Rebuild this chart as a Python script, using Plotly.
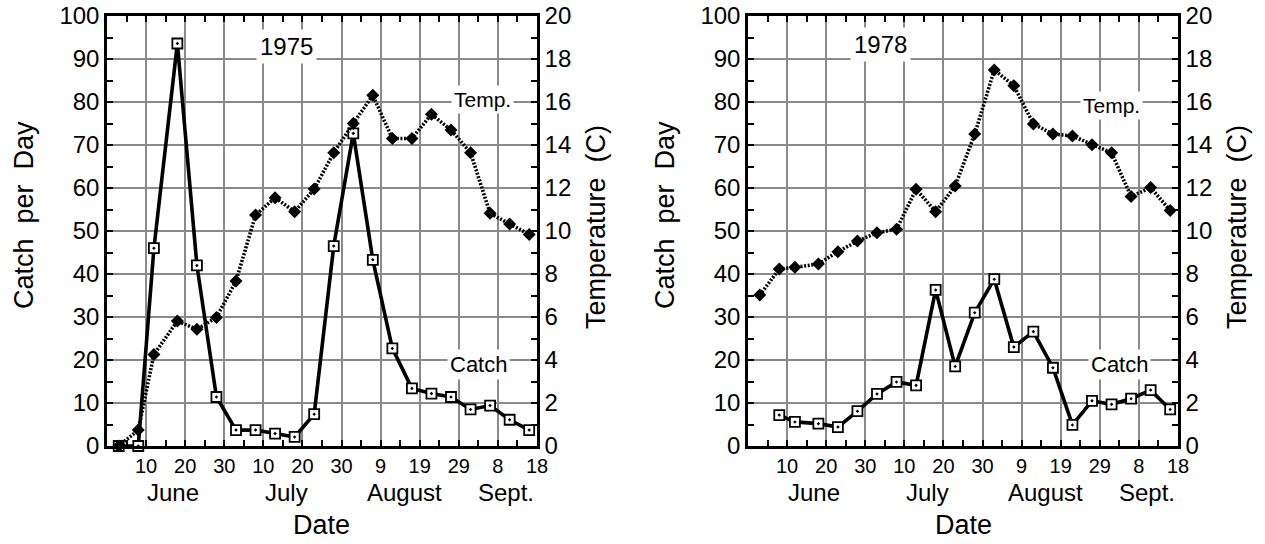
import plotly.graph_objects as go

# ---------------- data ----------------
DATES_1975 = ["1975-06-03", "1975-06-08", "1975-06-12", "1975-06-18", "1975-06-23", "1975-06-28",
              "1975-07-03", "1975-07-08", "1975-07-13", "1975-07-18", "1975-07-23", "1975-07-28",
              "1975-08-02", "1975-08-07", "1975-08-12", "1975-08-17", "1975-08-22", "1975-08-27",
              "1975-09-01", "1975-09-06", "1975-09-11", "1975-09-16"]
CATCH_1975 = [0, 0, 46, 93.6, 42, 11.4, 3.7, 3.7, 2.9, 2.1, 7.4, 46.5,
              72.7, 43.3, 22.7, 13.4, 12.2, 11.4, 8.5, 9.4, 6.1, 3.7]
TEMP_1975 = [0, 0.74, 4.26, 5.81, 5.43, 5.98, 7.67, 10.74, 11.55, 10.9, 11.95, 13.64,
             15.0, 16.31, 14.3, 14.3, 15.43, 14.7, 13.64, 10.82, 10.33, 9.84]

TEMP_DATES_1978 = ["1978-06-03", "1978-06-08", "1978-06-12", "1978-06-18", "1978-06-23", "1978-06-28",
                   "1978-07-03", "1978-07-08", "1978-07-13", "1978-07-18", "1978-07-23", "1978-07-28",
                   "1978-08-02", "1978-08-07", "1978-08-12", "1978-08-17", "1978-08-22", "1978-08-27",
                   "1978-09-01", "1978-09-06", "1978-09-11", "1978-09-16"]
TEMP_1978 = [7.02, 8.23, 8.31, 8.47, 9.04, 9.53, 9.92, 10.08, 11.94, 10.9, 12.09, 14.51,
             17.49, 16.76, 14.98, 14.51, 14.42, 14.01, 13.64, 11.6, 12.02, 10.95]
CATCH_DATES_1978 = TEMP_DATES_1978[1:]
CATCH_1978 = [7.2, 5.6, 5.2, 4.4, 8.1, 12.1, 14.9, 14.1, 36.3, 18.5, 31.0,
              38.8, 23.0, 26.6, 18.2, 4.9, 10.5, 9.7, 11.0, 13.0, 8.5]

TICK_MONTH_DAYS = ["06-10", "06-20", "06-30", "07-10", "07-20", "07-30",
                   "08-09", "08-19", "08-29", "09-08", "09-18"]
TICK_LABELS = ["10", "20", "30", "10", "20", "30", "9", "19", "29", "8", "18"]
MONTHS = ["June", "July", "August", "Sept."]
MONTH_POS = ["06-17", "07-16", "08-15", "09-10"]
YEARS = ["1975", "1978"]

FONT = "Liberation Sans, Arial, Helvetica, sans-serif"
GRID = "#8a8a8a"
DAY_MS = 86400000

fig = go.Figure()

def add_panel(i, year, cdates, catch, tdates, temp):
    xa = "x" if i == 0 else "x2"
    ya_c = "y" if i == 0 else "y3"
    ya_t = "y2" if i == 0 else "y4"
    fig.add_trace(go.Scatter(
        x=tdates, y=temp, xaxis=xa, yaxis=ya_t, mode="lines+markers", name="Temp. " + year,
        line=dict(color="black", width=3.6, dash="2px,1.6px"),
        marker=dict(symbol="diamond", size=10, color="black"),
        showlegend=False, cliponaxis=False))
    fig.add_trace(go.Scatter(
        x=cdates, y=catch, xaxis=xa, yaxis=ya_c, mode="lines+markers", name="Catch " + year,
        line=dict(color="black", width=3.6),
        marker=dict(symbol="square-dot", size=10, color="white",
                    line=dict(color="black", width=1.8)),
        showlegend=False, cliponaxis=False))

add_panel(0, "1975", DATES_1975, CATCH_1975, DATES_1975, TEMP_1975)
add_panel(1, "1978", CATCH_DATES_1978, CATCH_1978, TEMP_DATES_1978, TEMP_1978)

W, H = 1265, 544
X_DOMAINS = [[107 / W, 537 / W], [748 / W, 1178 / W]]
Y_DOMAIN = [1 - 446 / H, 1 - 16 / H]

def xaxis_cfg(i, year):
    return dict(
        domain=X_DOMAINS[i], type="date",
        range=[f"{year}-05-31", f"{year}-09-18"],
        tickmode="array",
        tickvals=[f"{year}-{md}" for md in TICK_MONTH_DAYS],
        ticktext=TICK_LABELS,
        tickfont=dict(family=FONT, size=20, color="black"),
        showgrid=True, gridcolor=GRID, gridwidth=1.6,
        showline=True, linecolor="black", linewidth=2.5, mirror="ticks",
        ticks="inside", ticklen=6, tickcolor="black", tickwidth=1.5,
        minor=dict(tick0=f"{year}-05-31", dtick=5 * DAY_MS, ticks="inside",
                   ticklen=6, tickcolor="black", tickwidth=1.5, showgrid=False),
        zeroline=False, automargin=False, fixedrange=True,
        anchor="y" if i == 0 else "y3",
    )

def ycatch_cfg(i):
    return dict(
        domain=Y_DOMAIN, range=[0, 100], dtick=10, tick0=0,
        tickfont=dict(family=FONT, size=24, color="black"),
        showgrid=True, gridcolor=GRID, gridwidth=1.6,
        showline=True, linecolor="black", linewidth=2.5,
        ticks="inside", ticklen=6, tickcolor="black", tickwidth=1.5,
        minor=dict(dtick=5, ticks="inside", ticklen=6, tickcolor="black",
                   tickwidth=1.5, showgrid=False),
        zeroline=False, automargin=False, fixedrange=True,
        anchor="x" if i == 0 else "x2",
    )

def ytemp_cfg(i):
    return dict(
        range=[0, 20], dtick=2, tick0=0, side="right",
        overlaying="y" if i == 0 else "y3",
        anchor="x" if i == 0 else "x2",
        tickfont=dict(family=FONT, size=24, color="black"),
        showgrid=False,
        showline=True, linecolor="black", linewidth=2.5,
        ticks="inside", ticklen=6, tickcolor="black", tickwidth=1.5,
        minor=dict(dtick=1, ticks="inside", ticklen=6, tickcolor="black",
                   tickwidth=1.5, showgrid=False),
        zeroline=False, automargin=False, fixedrange=True,
    )

annotations = []
for i, year in enumerate(YEARS):
    xr = "x" if i == 0 else "x2"
    yr = "y" if i == 0 else "y3"
    x0 = X_DOMAINS[i][0]
    x1 = X_DOMAINS[i][1]
    # year label
    annotations.append(dict(
        x=f"{year}-07-16" if i == 0 else f"{year}-07-04", y=92.8 if i == 0 else 93.3,
        xref=xr, yref=yr, text=year, showarrow=False, bgcolor="white", borderpad=3,
        xanchor="center", yanchor="middle",
        font=dict(family=FONT, size=24, color="black")))
    # series labels
    annotations.append(dict(
        x=f"{year}-09-04" if i == 0 else f"{year}-09-01", y=80.5 if i == 0 else 79.3,
        xref=xr, yref=yr, text="Temp.", showarrow=False, bgcolor="white", borderpad=2,
        xanchor="center", yanchor="middle",
        font=dict(family=FONT, size=21, color="black")))
    annotations.append(dict(
        x=f"{year}-09-03", y=18.9, xref=xr, yref=yr, text="Catch", showarrow=False,
        xanchor="center", yanchor="middle",
        bgcolor="white", borderpad=2, font=dict(family=FONT, size=22, color="black")))
    # month names
    for m, pos in zip(MONTHS, MONTH_POS):
        annotations.append(dict(
            x=f"{year}-{pos}", y=1 - 492 / H, xref=xr, yref="paper", text=m,
            xanchor="center", yanchor="middle",
            showarrow=False, font=dict(family=FONT, size=24, color="black")))
    # axis titles
    annotations.append(dict(
        x=(x0 + x1) / 2, y=1 - 525 / H, xref="paper", yref="paper", text="Date",
        xanchor="center", yanchor="middle",
        showarrow=False, font=dict(family=FONT, size=27, color="black")))
    annotations.append(dict(
        x=x0 - 83 / W, y=1 - 215 / H, xref="paper", yref="paper", text="Catch  per  Day",
        xanchor="center", yanchor="middle",
        textangle=-90, showarrow=False, font=dict(family=FONT, size=27, color="black")))
    annotations.append(dict(
        x=x1 + 59 / W, y=1 - 227 / H, xref="paper", yref="paper", text="Temperature  (C)",
        xanchor="center", yanchor="middle",
        textangle=-90, showarrow=False, font=dict(family=FONT, size=27, color="black")))

fig.update_layout(
    width=W, height=H,
    margin=dict(l=0, r=0, t=0, b=0),
    paper_bgcolor="white", plot_bgcolor="white",
    xaxis=xaxis_cfg(0, "1975"), yaxis=ycatch_cfg(0), yaxis2=ytemp_cfg(0),
    xaxis2=xaxis_cfg(1, "1978"), yaxis3=ycatch_cfg(1), yaxis4=ytemp_cfg(1),
    annotations=annotations,
    font=dict(family=FONT, color="black"),
    showlegend=False,
)

fig.write_html("out.html", config={"displayModeBar": False})
